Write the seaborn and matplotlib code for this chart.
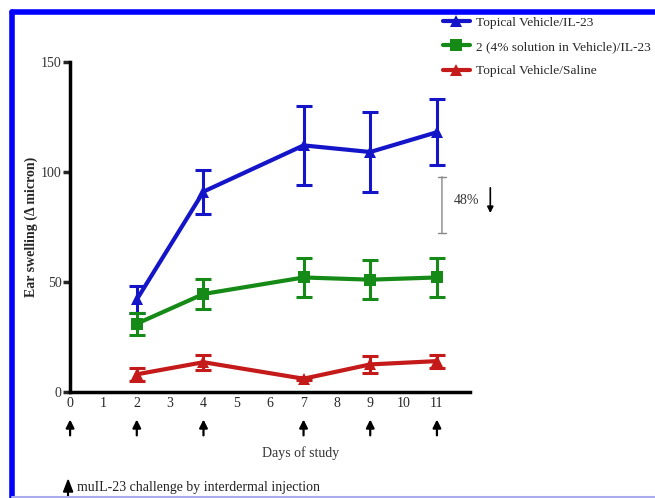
import numpy as np
import pandas as pd
import matplotlib
matplotlib.use("Agg")
import matplotlib.pyplot as plt
import seaborn as sns
from matplotlib.lines import Line2D

# data
days = [2, 4, 7, 9, 11]
groups = ['Topical Vehicle/IL-23', '2 (4% solution in Vehicle)/IL-23', 'Topical Vehicle/Saline']
il23_mean = [42, 91, 112, 109, 118]
il23_err = [6, 10, 18, 18, 15]
cmpd_mean = [31, 44.5, 52, 51, 52]
cmpd_err = [5, 7, 9, 9, 9]
saline_mean = [8, 13.5, 6, 12.5, 14]
saline_err = [3, 3.5, 0.8, 4, 3]
challenge_days = [0, 2, 4, 7, 9, 11]
xtick_days = list(range(12))
yticks = [0, 50, 100, 150]

colors = ['#1414c8', '#168a16', '#c41a1a']
markers = ['^', 's', '^']

df = pd.DataFrame({
    'day': days * 3,
    'swelling': il23_mean + cmpd_mean + saline_mean,
    'group': [g for g in groups for _ in days],
})
errs = [il23_err, cmpd_err, saline_err]
means = [il23_mean, cmpd_mean, saline_mean]

sns.set_style("white")
plt.rcParams['font.family'] = ['Liberation Serif', 'DejaVu Sans']

fig = plt.figure(figsize=(6.55, 4.98), dpi=100)
ax = fig.add_axes([0.107, 0.213, 0.611, 0.663])

sns.lineplot(data=df, x='day', y='swelling', hue='group', style='group',
             palette=colors, markers=dict(zip(groups, markers)), dashes=False,
             linewidth=3, markersize=8, markeredgewidth=0, ax=ax, legend=False)

for m, e, c in zip(means, errs, colors):
    ax.errorbar(days, m, yerr=e, fmt='none', ecolor=c, elinewidth=2.2,
                capsize=6, capthick=2.2, zorder=3)

ax.set_xlim(0, 12)
ax.set_ylim(0, 150)
ax.set_xticks(xtick_days)
ax.set_xticklabels([str(d) for d in xtick_days], fontsize=10)
ax.set_yticks(yticks)
ax.set_yticklabels([str(v) for v in yticks], fontsize=10, color='#333333')
ax.tick_params(axis='y', direction='out', length=5, width=2.5, pad=1, left=True)
ax.tick_params(axis='x', length=0, pad=4)
for s in ['top', 'right']:
    ax.spines[s].set_visible(False)
for s in ['left', 'bottom']:
    ax.spines[s].set_linewidth(2.5)
    ax.spines[s].set_color('black')
ax.set_xlabel('')
ax.set_ylabel('Ear swelling (\u0394 micron)', fontsize=10, fontweight='bold', labelpad=2)

# challenge arrows below the axis
for d in challenge_days:
    ax.annotate('', xy=(d, -0.075), xytext=(d, -0.14),
                xycoords=('data', 'axes fraction'), textcoords=('data', 'axes fraction'),
                arrowprops=dict(arrowstyle='-|>', color='black', lw=1.6, mutation_scale=12),
                annotation_clip=False)
ax.text(6.9, -0.185, 'Days of study', transform=ax.get_xaxis_transform(),
        ha='center', va='center', fontsize=10, color='#333333')

# 48% reduction bracket
ax.annotate('', xy=(11.15, 71), xytext=(11.15, 99),
            arrowprops=dict(arrowstyle='|-|', color='#888888', lw=1, mutation_scale=3))
ax.text(11.5, 87, '48%', ha='left', va='center', fontsize=10, color='#333333')
ax.annotate('', xy=(12.6, 80), xytext=(12.6, 94),
            arrowprops=dict(arrowstyle='-|>', color='black', lw=1.2, mutation_scale=9),
            annotation_clip=False)

# legend
handles = [Line2D([], [], color=c, marker=mk, lw=3, markersize=8, markeredgewidth=0)
           for c, mk in zip(colors, markers)]
fig.legend(handles, groups, loc='upper left', bbox_to_anchor=(0.668, 0.978),
           frameon=False, fontsize=9.6, handlelength=2.0, handletextpad=0.45,
           labelspacing=0.9, borderaxespad=0)

# footnote
fig.patches.append(plt.Polygon([[0.097, 0.012], [0.104, 0.036], [0.111, 0.012]],
                               closed=True, color='black', transform=fig.transFigure))
fig.add_artist(Line2D([0.104, 0.104], [0.005, 0.02], color='black', lw=1.5,
                      transform=fig.transFigure))
fig.text(0.118, 0.022, 'muIL-23 challenge by interdermal injection',
         fontsize=10, va='center', color='#222222')

# page border
fig.add_artist(Line2D([0.019, 1.0], [0.975, 0.975], color='#0000ff', lw=4, transform=fig.transFigure))
fig.add_artist(Line2D([0.019, 0.019], [0.0, 0.975], color='#0000ff', lw=4, transform=fig.transFigure))
fig.add_artist(Line2D([0.019, 1.0], [0.002, 0.002], color='#aaaaee', lw=1.5, transform=fig.transFigure))

fig.savefig('out.png', dpi=100)
